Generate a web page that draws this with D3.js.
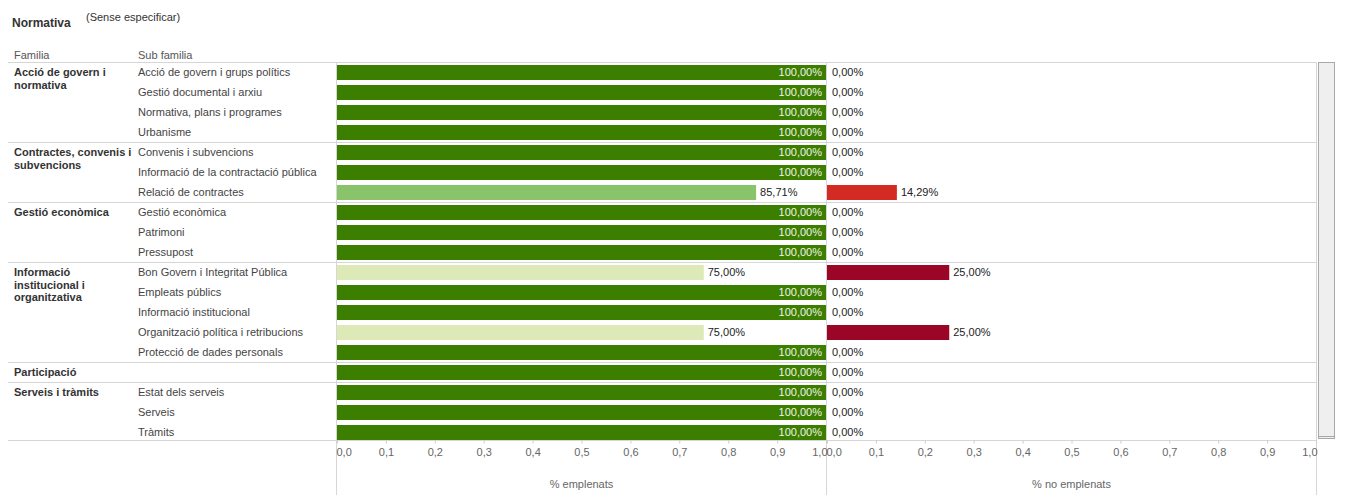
<!DOCTYPE html>
<html>
<head>
<meta charset="utf-8">
<script src="https://cdn.jsdelivr.net/npm/d3@7"></script>
<style>
  body { margin: 0; background: #fff; }
  text { font-family: "Liberation Sans", Arial, sans-serif; }
</style>
</head>
<body>
<div id="chart"></div>
<script>
// Data
const families = [
    "Acció de govern i normativa",
    "Contractes, convenis i subvencions",
    "Gestió econòmica",
    "Informació institucional i organitzativa",
    "Participació",
    "Serveis i tràmits"
];
const subFamilies = [
    "Acció de govern i grups polítics",
    "Gestió documental i arxiu",
    "Normativa, plans i programes",
    "Urbanisme",
    "Convenis i subvencions",
    "Informació de la contractació pública",
    "Relació de contractes",
    "Gestió econòmica",
    "Patrimoni",
    "Pressupost",
    "Bon Govern i Integritat Pública",
    "Empleats públics",
    "Informació institucional",
    "Organització política i retribucions",
    "Protecció de dades personals",
    "",
    "Estat dels serveis",
    "Serveis",
    "Tràmits"
];
// index into families for each row
const rowFamily = [0, 0, 0, 0, 1, 1, 1, 2, 2, 2, 3, 3, 3, 3, 3, 4, 5, 5, 5];
const emplenats = [1, 1, 1, 1, 1, 1, 0.8571, 1, 1, 1, 0.75, 1, 1, 0.75, 1, 1, 1, 1, 1];
const noEmplenats = [0, 0, 0, 0, 0, 0, 0.1429, 0, 0, 0, 0.25, 0, 0, 0.25, 0, 0, 0, 0, 0];
const ticks = [0, 0.1, 0.2, 0.3, 0.4, 0.5, 0.6, 0.7, 0.8, 0.9, 1.0];

const W = 1346, H = 502;
const top0 = 62, rowH = 20, viewBottom = 440;
const lineColor = "#d6d6d6";

const svg = d3.select("#chart").append("svg")
    .attr("width", W)
    .attr("height", H);

const locale = d3.formatLocale({ decimal: ",", thousands: ".", grouping: [3], currency: ["", "€"] });
const pct = locale.format(".2%");
const tickFmt = locale.format(".1f");

const x1 = d3.scaleLinear().domain([0, 1]).range([337, 826]);
const x2 = d3.scaleLinear().domain([0, 1]).range([827, 1316]);

const colorOk = d3.scaleThreshold().domain([0.8, 0.95]).range(["#dde9b7", "#89c46b", "#3c7e00"]);
const colorNo = d3.scaleThreshold().domain([0.2]).range(["#d42a24", "#9c0626"]);

// Header
svg.append("text").attr("x", 12).attr("y", 27)
    .style("font-size", "12px").style("font-weight", "bold").style("fill", "#333")
    .text("Normativa");
svg.append("text").attr("x", 86).attr("y", 21)
    .style("font-size", "11px").style("fill", "#333")
    .text("(Sense especificar)");
svg.append("text").attr("x", 14).attr("y", 59)
    .style("font-size", "11px").style("fill", "#555").text("Familia");
svg.append("text").attr("x", 138).attr("y", 59)
    .style("font-size", "11px").style("fill", "#555").text("Sub familia");

// Clip for the scrolled table body
svg.append("defs").append("clipPath").attr("id", "body-clip")
    .append("rect").attr("x", 0).attr("y", top0).attr("width", W).attr("height", viewBottom - top0);

const body = svg.append("g").attr("clip-path", "url(#body-clip)");

const rowY = i => top0 + i * rowH;

// Group separators and family labels
families.forEach((fam, f) => {
    const first = rowFamily.indexOf(f);
    const y = rowY(first);
    body.append("line")
        .attr("x1", 8).attr("x2", 1316)
        .attr("y1", y + 0.5).attr("y2", y + 0.5)
        .attr("stroke", lineColor);

    const t = body.append("text")
        .attr("x", 14).attr("y", y + 14)
        .style("font-size", "11px").style("font-weight", "bold").style("fill", "#333");
    // wrap the family name into ~120px lines
    const words = fam.split(" ");
    let line = [];
    let tspan = t.append("tspan").attr("x", 14).attr("dy", 0);
    words.forEach(w => {
        line.push(w);
        tspan.text(line.join(" "));
        if (tspan.node().getComputedTextLength() > 120 && line.length > 1) {
            line.pop();
            tspan.text(line.join(" "));
            line = [w];
            tspan = t.append("tspan").attr("x", 14).attr("dy", 12.5).text(w);
        }
    });
});

// Rows
subFamilies.forEach((sub, i) => {
    const y = rowY(i);
    body.append("text")
        .attr("x", 138).attr("y", y + 14)
        .style("font-size", "11px").style("fill", "#444")
        .text(sub);

    [[emplenats[i], x1, colorOk], [noEmplenats[i], x2, colorNo]].forEach(([v, x, c]) => {
        if (v > 0) {
            body.append("rect")
                .attr("x", x(0)).attr("y", y + 3)
                .attr("width", x(v) - x(0)).attr("height", 15)
                .attr("fill", c(v));
        }
        const lbl = body.append("text")
            .attr("y", y + 14)
            .style("font-size", "11px")
            .text(pct(v));
        const tw = lbl.node().getComputedTextLength();
        const end = x(v);
        if (end + 5 + tw > x.range()[1]) {
            lbl.attr("x", end - 4).attr("text-anchor", "end").style("fill", "#eef4e8");
        } else {
            lbl.attr("x", v > 0 ? end + 4 : end + 5).style("fill", "#222");
        }
    });
});

// Bottom border of the visible area
svg.append("line")
    .attr("x1", 8).attr("x2", 1316)
    .attr("y1", viewBottom + 0.5).attr("y2", viewBottom + 0.5)
    .attr("stroke", lineColor);

// Panel dividers
[336, 826, 1316].forEach(x => {
    svg.append("line")
        .attr("x1", x + 0.5).attr("x2", x + 0.5)
        .attr("y1", top0).attr("y2", 495)
        .attr("stroke", lineColor);
});

// Axes
[[x1, "% emplenats"], [x2, "% no emplenats"]].forEach(([x, title]) => {
    const g = svg.append("g")
        .attr("transform", `translate(0,${viewBottom + 0.5})`)
        .call(d3.axisBottom(x).tickValues(ticks).tickFormat(tickFmt).tickSize(3).tickPadding(5));
    g.select(".domain").remove();
    g.selectAll(".tick line").attr("stroke", "#ccc");
    g.selectAll(".tick text")
        .style("font-size", "11px")
        .style("fill", "#666")
        .style("font-family", "'Liberation Sans', Arial, sans-serif")
        .attr("text-anchor", d => d === 0 ? "start" : d === 1 ? "end" : "middle")
        .attr("dx", d => d === 0 ? -1 : d === 1 ? 1 : 0);

    const r = x.range();
    svg.append("text")
        .attr("x", (r[0] + r[1]) / 2).attr("y", 488)
        .attr("text-anchor", "middle")
        .style("font-size", "11px").style("fill", "#666")
        .text(title);
});

// Scrollbar
svg.append("rect")
    .attr("x", 1318.5).attr("y", top0 + 0.5)
    .attr("width", 16).attr("height", 376)
    .attr("fill", "#efefef").attr("stroke", "#a8a8a8");
svg.append("line")
    .attr("x1", 1318.5).attr("x2", 1334.5)
    .attr("y1", top0 + 374.5).attr("y2", top0 + 374.5)
    .attr("stroke", "#a8a8a8");
</script>
</body>
</html>
